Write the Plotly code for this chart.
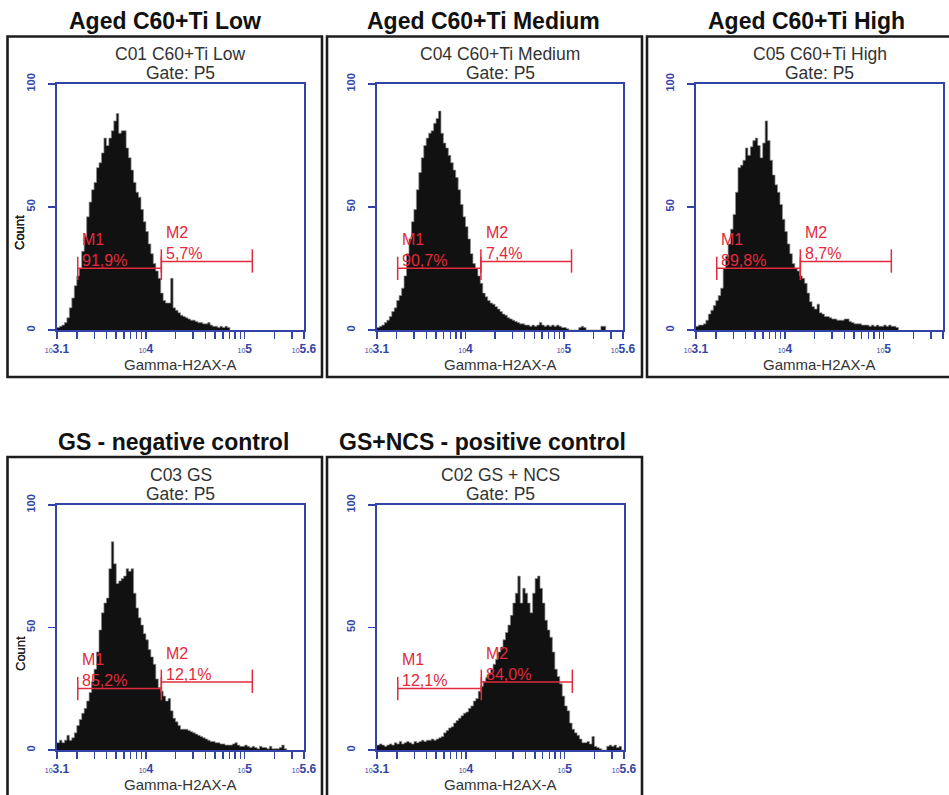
import math
import plotly.graph_objects as go

W, H = 949, 795
BLUE = "#3444a6"
RED = "#e12a3c"
FONT = "Liberation Sans, Arial, sans-serif"

# ---------------- data ----------------
BIN_START_LOG = 3.1      # log10 of first histogram bin edge
BIN_WIDTH_LOG = 0.025    # histogram bin width in decades
AXIS_RANGE_LOG = [3.1, 5.6]

panel_titles = ["Aged C60+Ti Low", "Aged C60+Ti Medium", "Aged C60+Ti High",
                "GS - negative control", "GS+NCS - positive control"]
sample_names = ["C01 C60+Ti Low", "C04 C60+Ti Medium", "C05 C60+Ti High",
                "C03 GS", "C02 GS + NCS"]
gate_label = "Gate: P5"
x_title = "Gamma-H2AX-A"
y_title = "Count"

m1_percent = ["91,9%", "90,7%", "89,8%", "85,2%", "12,1%"]
m2_percent = ["5,7%", "7,4%", "8,7%", "12,1%", "84,0%"]
M1_GATE_LOG = [3.31, 4.156]
M2_GATE_LOG = [4.156, 5.077]
M1_LEVEL = 25.1
M2_LEVEL = 27.8

counts_low = [1, 1.5, 2, 3, 5, 9, 13, 18, 22, 25, 32, 38, 46, 52, 57, 60, 66, 68, 72, 78,
              75, 78, 81, 85, 88, 80, 81, 81, 74, 70, 65, 60, 56, 54, 49, 44, 40, 35, 31, 27,
              24, 21, 15, 12, 11, 11, 21, 9, 8, 7, 6, 5.5, 5, 4.5, 4, 4, 3.5, 3, 3, 2.5,
              2.5, 3, 2, 1.5, 1.5, 1, 1.5, 1, 1.5, 1]
counts_medium = [1, 1.5, 2, 3, 4, 5.5, 7.5, 9, 12, 14, 17, 22, 31, 37, 44, 49, 57, 64, 70, 75,
                 78, 80, 81, 84, 86, 89, 80, 76, 74, 71, 68, 65, 62, 57, 51, 46, 42, 37, 31, 27,
                 25, 22, 19, 15, 13.5, 12, 11, 10.5, 9.5, 8.5, 7.5, 6.5, 6, 5, 4.5, 4, 3.5, 3, 2.5, 2.5,
                 2, 2, 1.5, 2, 1.5, 2, 3, 2, 1.5, 2, 1.5, 2, 1.5, 2, 1.5, 1, 1, 0.5, 0, 0,
                 0, 0, 1, 1.5, 1, 0, 0, 0, 0, 0, 0, 1.5, 1.5]
counts_high = [1.5, 2, 2, 2.5, 4, 6.5, 8, 10, 12, 14, 17, 25, 30, 35, 41, 47, 56, 66, 67, 69,
               74, 71, 74.5, 77, 78, 75, 70, 76, 85, 77, 69, 63, 59, 56, 51, 45, 40, 35, 31, 27,
               25, 24, 22, 21, 19, 15, 11.5, 9.5, 8.5, 10.5, 7, 6.5, 5.5, 5.5, 5, 4.5, 4.5, 4, 4, 4,
               4.5, 4.5, 3.5, 3, 2.5, 2.5, 2.5, 2, 2, 2, 1.5, 2, 1.5, 2, 1.5, 1.5, 2, 1.5, 2, 1.5,
               1.5, 1]
counts_gs = [3, 4, 3, 4, 6, 4, 5, 7, 10, 12.5, 15, 17, 20, 23.5, 28, 33, 40, 49, 56, 60,
             62, 74, 85, 76, 68, 69, 70, 71, 74, 73, 74, 64, 58, 54, 51, 47.5, 45, 41, 38, 35,
             29, 25.5, 24, 22, 20, 21, 16, 13, 11.5, 10, 8.5, 8.5, 8.5, 8, 7.5, 7, 6.5, 6, 5.5, 5,
             4.5, 4, 3.5, 3.5, 3, 3, 2.5, 2.5, 2, 2, 2, 2.5, 3, 2, 1.5, 1.5, 2, 1.5, 1, 1.5,
             1, 0.5, 1.5, 1, 1, 0.5, 1.5, 0.5, 0.5, 0.5, 1, 2, 0.5]
counts_gs_ncs = [2, 2.5, 2, 1.5, 2, 2.5, 2, 3, 2.5, 3.5, 2.5, 3, 3.5, 3, 2.5, 3.5, 3, 3.5, 4, 3.5,
                 4, 4, 4.5, 4, 4.5, 5, 5.5, 7, 8, 9, 9.5, 11, 12, 13, 14, 15, 15.5, 17, 18, 20,
                 21, 24, 26, 28, 29.5, 31, 33, 35, 37, 40, 42, 45, 48, 51, 55, 60, 64, 71, 60, 66,
                 64, 60, 56, 64, 70, 71, 66, 60, 53, 49, 46, 40, 33, 30, 27, 22, 18, 16, 11, 8.5,
                 7, 6, 4.5, 3, 3, 3.5, 2.5, 5.5, 1.5, 1, 0.5, 0, 0, 1.5, 2, 1.5, 2, 1, 1.5, 0]

panel_counts = [counts_low, counts_medium, counts_high, counts_gs, counts_gs_ncs]

y_tick_values = [0, 50, 100]
x_major_labels = {3.1: "3.1", 4.0: "4", 5.0: "5", 5.6: "5.6"}

# ---------------- layout geometry (pixels) ----------------
plot_px = [(57, 304, 84, 330), (377, 623, 84, 330), (696, 943, 84, 330),
           (57, 304, 505, 750), (377, 624, 505, 750)]
title_px = [(165, 21.5), (483.5, 21.5), (806, 21.5), (173, 441.5), (482.5, 441.5)]
box_px = [(7.5, 322, 36.5, 377), (327, 642, 36.5, 377), (647, 966, 36.5, 377),
          (7.5, 322, 457, 805), (327, 642, 457, 805)]


def px_x(p):
    return p / W


def px_y(p):
    return 1 - p / H


# x tick positions (decade minor ticks inside the axis range, plus range ends)
lo, hi = 10 ** AXIS_RANGE_LOG[0], 10 ** AXIS_RANGE_LOG[1]
tick_vals = [lo]
for d in (3, 4, 5):
    for m in range(1, 10):
        v = m * 10 ** d
        if lo * 1.001 < v < hi * 0.999:
            tick_vals.append(v)
tick_vals.append(hi)


def tick_label(v):
    lv = round(math.log10(v), 3)
    for k, s in x_major_labels.items():
        if abs(lv - k) < 0.002:
            return f"<span style='font-size:7px'>10</span><b>{s}</b>"
    return ""


tick_text = [tick_label(v) for v in tick_vals]

fig = go.Figure()
annotations = []
shapes = []
layout_axes = {}

for i in range(5):
    n = "" if i == 0 else str(i + 1)
    xa, ya = "x" + n, "y" + n
    counts = panel_counts[i]
    edges = [10 ** (BIN_START_LOG + BIN_WIDTH_LOG * k) for k in range(len(counts) + 1)]
    ys = list(counts) + [0]
    fig.add_trace(go.Scatter(x=edges, y=ys, mode="lines", line=dict(shape="hv", color="#8c8c8c", width=0.7),
                             fill="tozeroy", fillcolor="#111111", xaxis=xa, yaxis=ya,
                             hoverinfo="skip", showlegend=False))
    # gate markers
    a1, b1 = 10 ** M1_GATE_LOG[0], 10 ** M1_GATE_LOG[1]
    a2, b2 = 10 ** M2_GATE_LOG[0], 10 ** M2_GATE_LOG[1]
    mx = [a1, b1, None, a1, a1, None, b1, b1, None, a2, b2, None, a2, a2, None, b2, b2]
    my = [M1_LEVEL, M1_LEVEL, None, M1_LEVEL - 4.8, M1_LEVEL + 4.7, None, M1_LEVEL - 4.8, M1_LEVEL + 4.7, None,
          M2_LEVEL, M2_LEVEL, None, M2_LEVEL - 4.5, M2_LEVEL + 5, None, M2_LEVEL - 4.5, M2_LEVEL + 5]
    fig.add_trace(go.Scatter(x=mx, y=my, mode="lines", line=dict(color=RED, width=1.5),
                             xaxis=xa, yaxis=ya, hoverinfo="skip", showlegend=False))

    x0, x1, y0, y1 = plot_px[i]
    layout_axes["xaxis" + n] = dict(
        type="log", range=AXIS_RANGE_LOG, domain=[px_x(x0), px_x(x1)], anchor=ya,
        showline=True, mirror=True, linecolor=BLUE, linewidth=1.6,
        ticks="outside", ticklen=7, tickwidth=1.4, tickcolor=BLUE,
        tickmode="array", tickvals=tick_vals, ticktext=tick_text,
        tickfont=dict(family=FONT, size=12, color=BLUE), automargin=False,
        showgrid=False, zeroline=False, fixedrange=True)
    layout_axes["yaxis" + n] = dict(
        range=[0, 100], domain=[px_y(y1), px_y(y0)], anchor=xa,
        showline=True, mirror=True, linecolor=BLUE, linewidth=1.6,
        ticks="outside", ticklen=7, tickwidth=1.4, tickcolor=BLUE,
        tickmode="array", tickvals=y_tick_values,
        ticktext=[f"<b>{v}</b>" for v in y_tick_values], tickangle=-90,
        tickfont=dict(family=FONT, size=11, color=BLUE), automargin=False,
        ticklabelstandoff=9,
        showgrid=False, zeroline=False, fixedrange=True)

    # outer black box
    bx0, bx1, by0, by1 = box_px[i]
    shapes.append(dict(type="rect", xref="paper", yref="paper", x0=px_x(bx0), x1=px_x(bx1),
                       y0=px_y(by1), y1=px_y(by0), line=dict(color="#1c1c1c", width=2.6)))
    # titles
    tx, ty = title_px[i]
    annotations.append(dict(text=f"<b>{panel_titles[i]}</b>", x=px_x(tx), y=px_y(ty), xref="paper", yref="paper",
                            showarrow=False, xanchor="center", yanchor="middle",
                            font=dict(family=FONT, size=23, color="#111111")))
    cx = (x0 + x1) / 2
    annotations.append(dict(text=sample_names[i], x=px_x(cx), y=px_y(y0 - 30), xref="paper", yref="paper",
                            showarrow=False, xanchor="center", yanchor="middle",
                            font=dict(family=FONT, size=17.5, color="#333333")))
    annotations.append(dict(text=gate_label, x=px_x(cx), y=px_y(y0 - 11), xref="paper", yref="paper",
                            showarrow=False, xanchor="center", yanchor="middle",
                            font=dict(family=FONT, size=17.5, color="#333333")))
    annotations.append(dict(text=y_title, x=px_x(20), y=px_y(y0 + 149), xref="paper", yref="paper",
                            showarrow=False, xanchor="center", yanchor="middle", textangle=-90,
                            font=dict(family=FONT, size=13, color="#222222")))
    annotations.append(dict(text=x_title, x=px_x(cx), y=px_y(y1 + 34), xref="paper", yref="paper",
                            showarrow=False, xanchor="center", yanchor="middle",
                            font=dict(family=FONT, size=15, color="#333333")))
    # gate labels (domain-relative positions)
    span = AXIS_RANGE_LOG[1] - AXIS_RANGE_LOG[0]
    m1x = (M1_GATE_LOG[0] + 0.022 - AXIS_RANGE_LOG[0]) / span
    m2x = (M2_GATE_LOG[0] + 0.03 - AXIS_RANGE_LOG[0]) / span
    for txt, xx, yy in [(f"M1<br>{m1_percent[i]}", m1x, M1_LEVEL + 7.6),
                        (f"M2<br>{m2_percent[i]}", m2x, M2_LEVEL + 7.5)]:
        annotations.append(dict(text=txt, x=xx, y=yy / 100, xref=xa + " domain", yref=ya + " domain",
                                showarrow=False, xanchor="left", yanchor="middle", align="left",
                                font=dict(family=FONT, size=16, color=RED)))

fig.update_layout(width=W, height=H, autosize=False,
                  margin=dict(l=0, r=0, t=0, b=0, pad=0, autoexpand=False),
                  paper_bgcolor="white", plot_bgcolor="white",
                  annotations=annotations, shapes=shapes, showlegend=False, **layout_axes)

fig.write_html("out.html", config={"displayModeBar": False, "staticPlot": True},
               post_script="document.body.style.margin='0px';document.body.style.overflow='hidden';")
